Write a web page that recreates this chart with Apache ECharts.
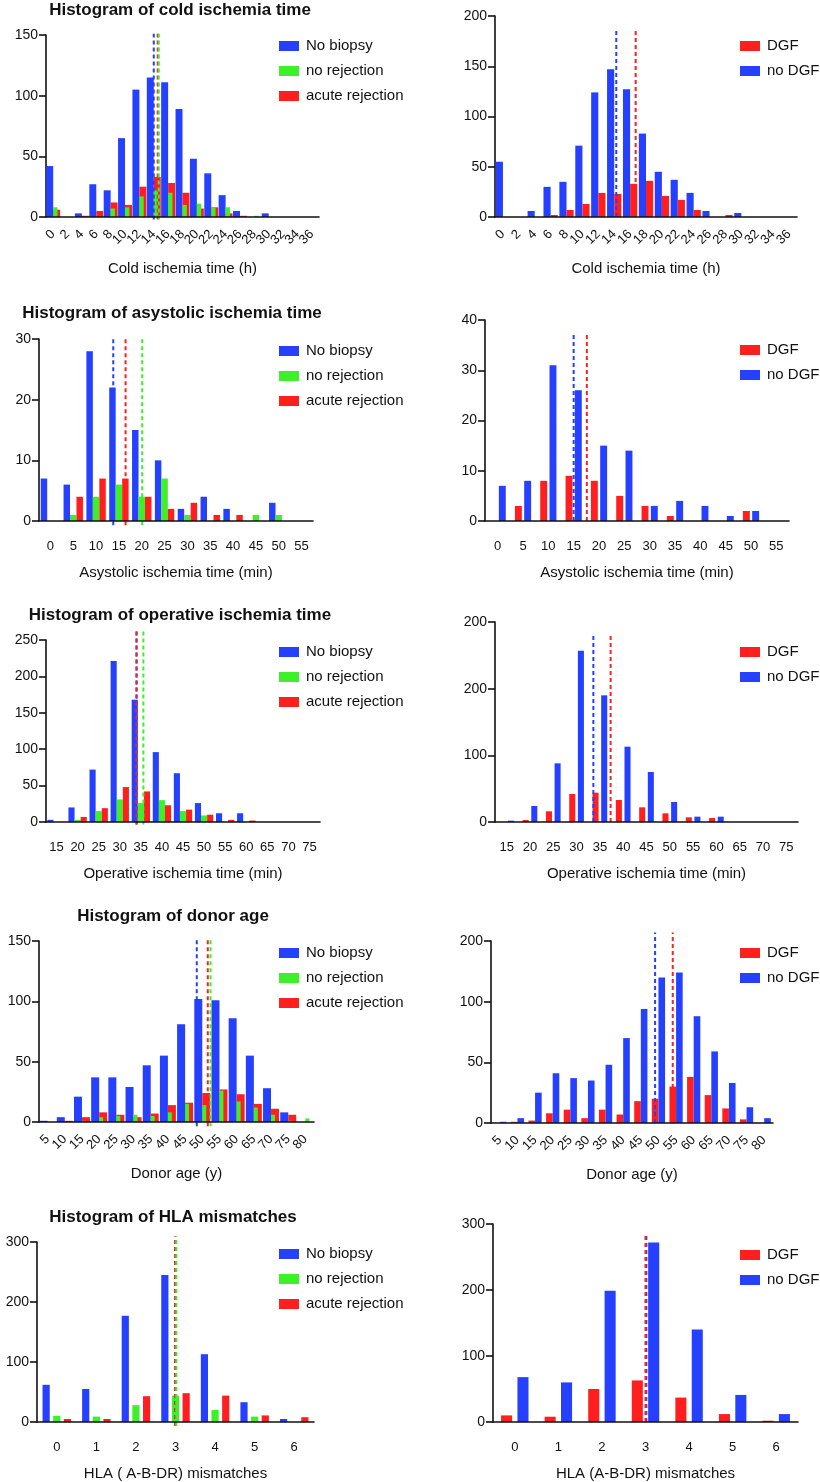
<!DOCTYPE html>
<html><head><meta charset="utf-8">
<script src="https://cdn.jsdelivr.net/npm/echarts@6/dist/echarts.min.js"></script>
<style>html,body{margin:0;padding:0;background:#fff}#c{width:820px;height:1482px}</style>
</head><body><div id="c"></div>
<script>
const FONT = '"Liberation Sans", Arial, Helvetica, sans-serif';
const BLUE = '#2541FF', GREEN = '#3DF02A', RED = '#FF1F1F';
const TXT = '#111';

// ---------- DATA ----------
const leftGroups = ['No biopsy', 'no rejection', 'acute rejection'];
const rightGroups = ['DGF', 'no DGF'];

// Cold ischemia time (h)
const coldBins = ['0','2','4','6','8','10','12','14','16','18','20','22','24','26','28','30','32','34','36'];
const coldNoBiopsy = [42,0,3,27,22,65,105,115,111,89,48,36,18,5,0,3,0,0,0];
const coldNoRejection = [8,0,0,0,7,8,17,22,20,10,11,8,8,0,1,0,0,0,0];
const coldAcuteRejection = [6,0,1,5,12,10,25,33,28,20,7,8,3,1,0,0,0,0,0];
const coldDGF = [0,0,0,2,7,13,24,23,33,36,21,17,7,0,2,0,0,0,0];
const coldNoDGF = [55,0,6,30,35,71,124,147,127,83,45,37,24,6,0,4,0,0,0];
const coldMeansLeft = [14.0, 14.7, 14.55];   // No biopsy, no rejection, acute rejection
const coldMeansRight = [16.7, 14.26];        // DGF, no DGF

// Asystolic ischemia time (min)
const asysBins = ['0','5','10','15','20','25','30','35','40','45','50','55'];
const asysNoBiopsy = [7,6,28,22,15,10,2,4,2,0,3,0];
const asysNoRejection = [0,1,4,6,4,7,1,0,0,1,1,0];
const asysAcuteRejection = [0,4,7,7,4,2,3,1,1,0,0,0];
const asysDGF = [0,3,8,9,8,5,3,1,0,0,2,0];
const asysNoDGF = [7,8,31,26,15,14,3,4,3,1,2,0];
const asysMeansLeft = [13.76, 20.1, 16.46];
const asysMeansRight = [17.6, 15.0];

// Operative ischemia time (min)
const opBins = ['15','20','25','30','35','40','45','50','55','60','65','70','75'];
const opNoBiopsy = [3,20,72,221,168,96,67,26,12,12,0,0,0];
const opNoRejection = [0,3,15,31,26,30,15,9,0,0,0,0,0];
const opAcuteRejection = [0,7,19,48,42,23,17,10,3,2,0,0,0];
const opDGF = [0,3,16,42,44,33,22,13,7,6,0,0,0];
const opNoDGF = [2,24,88,257,190,113,75,30,8,8,0,0,0];
const opMeansLeft = [34.0, 35.6, 33.95];
const opMeansRight = [37.3, 33.6];
const opRightYLabels = ['0','100','200','200'];

// Donor age (y)
const ageBins = ['5','10','15','20','25','30','35','40','45','50','55','60','65','70','75','80'];
const ageNoBiopsy = [1,4,21,37,37,29,47,55,81,102,101,86,55,28,8,0];
const ageNoRejection = [0,0,1,4,5,6,5,8,15,14,26,17,12,6,1,3];
const ageAcuteRejection = [0,1,4,8,6,4,7,14,16,24,27,23,15,11,6,0];
const ageDGF = [0,1,2,8,11,4,11,7,18,20,30,38,23,12,3,0];
const ageNoDGF = [1,4,25,41,37,35,48,70,94,120,124,88,59,33,13,4];
const ageMeansLeft = [48.4, 52.4, 51.6];
const ageMeansRight = [54.06, 49.05];
const ageRightYLabels = ['0','50','100','200'];

// HLA (A-B-DR) mismatches
const hlaBins = ['0','1','2','3','4','5','6'];
const hlaNoBiopsy = [62,55,177,245,113,33,5];
const hlaNoRejection = [10,9,28,44,20,9,0];
const hlaAcuteRejection = [5,5,43,48,44,11,8];
const hlaDGF = [10,8,50,63,37,12,2];
const hlaNoDGF = [68,60,199,272,140,41,12];
const hlaMeansLeft = [3.0, 3.02, 2.99];
const hlaMeansRight = [3.0, 3.02];

// ---------- PANELS (layout / style) ----------
function leftSeries(a,b,c){ return [{name:leftGroups[0],data:a,color:BLUE},{name:leftGroups[1],data:b,color:GREEN},{name:leftGroups[2],data:c,color:RED}]; }
// blue + red side by side, green drawn narrower over the left part of red
function leftSeriesOverlay(a,b,c){ return [{name:leftGroups[0],data:a,color:BLUE},{name:leftGroups[2],data:c,color:RED},{name:leftGroups[1],data:b,color:GREEN,overlay:true}]; }
function leftMeans(m){ return [{v:m[0],color:BLUE},{v:m[2],color:RED},{v:m[1],color:GREEN}]; }
function rightMeans(m){ return [{v:m[1],color:BLUE},{v:m[0],color:RED}]; }

const panels = [
  {title:'Histogram of cold ischemia time', titleX:180, titleY:2,
   grid:{left:46,top:35,width:273,height:182}, bins:coldBins, start:0, step:2, yMax:150, yInterval:50, rotate:45,
   xName:'Cold ischemia time (h)', legendX:279, legendY:38, legendData:leftGroups,
   series:leftSeriesOverlay(coldNoBiopsy,coldNoRejection,coldAcuteRejection), means:leftMeans(coldMeansLeft), span:[-2,151],
   barGap:'0%', barCategoryGap:'3%', overlayGap:'40%'},
  {grid:{left:495,top:16,width:302,height:201}, bins:coldBins, start:0, step:2, yMax:200, yInterval:50, rotate:45,
   xName:'Cold ischemia time (h)', legendX:740, legendY:38, legendData:rightGroups,
   series:[{name:'no DGF',data:coldNoDGF,color:BLUE},{name:'DGF',data:coldDGF,color:RED}], means:rightMeans(coldMeansRight), span:[0,185],
   barGap:'0%', barCategoryGap:'10%'},
  {title:'Histogram of asystolic ischemia time', titleX:172, titleY:305,
   grid:{left:39,top:339,width:274,height:182}, bins:asysBins, start:0, step:5, yMax:30, yInterval:10, rotate:0,
   xName:'Asystolic ischemia time (min)', legendX:279, legendY:343, legendData:leftGroups,
   series:leftSeries(asysNoBiopsy,asysNoRejection,asysAcuteRejection), means:leftMeans(asysMeansLeft), span:[-0.7,30.2],
   barGap:'0%', barCategoryGap:'15%'},
  {grid:{left:485,top:320,width:304,height:201}, bins:asysBins, start:0, step:5, yMax:40, yInterval:10, rotate:0,
   xName:'Asystolic ischemia time (min)', legendX:740, legendY:342, legendData:rightGroups,
   series:[{name:'DGF',data:asysDGF,color:RED},{name:'no DGF',data:asysNoDGF,color:BLUE}], means:rightMeans(asysMeansRight), span:[0,37.3],
   barGap:'34%', barCategoryGap:'36%'},
  {title:'Histogram of operative ischemia time', titleX:180, titleY:607,
   grid:{left:46,top:640,width:274,height:182}, bins:opBins, start:15, step:5, yMax:250, yInterval:50, rotate:0,
   xName:'Operative ischemia time (min)', legendX:279, legendY:644, legendData:leftGroups,
   series:leftSeries(opNoBiopsy,opNoRejection,opAcuteRejection), means:leftMeans(opMeansLeft), span:[-3.6,264],
   barGap:'0%', barCategoryGap:'13%'},
  {grid:{left:495,top:622,width:303,height:200}, bins:opBins, start:15, step:5, yMax:300, yInterval:100, yLabels:opRightYLabels, rotate:0,
   xName:'Operative ischemia time (min)', legendX:740, legendY:644, legendData:rightGroups,
   series:[{name:'DGF',data:opDGF,color:RED},{name:'no DGF',data:opNoDGF,color:BLUE}], means:rightMeans(opMeansRight), span:[0,283],
   barGap:'43%', barCategoryGap:'37%'},
  {title:'Histogram of donor age', titleX:173, titleY:908,
   grid:{left:39,top:941,width:275,height:181}, bins:ageBins, start:5, step:5, yMax:150, yInterval:50, rotate:45,
   xName:'Donor age (y)', legendX:279, legendY:945, legendData:leftGroups,
   series:leftSeriesOverlay(ageNoBiopsy,ageNoRejection,ageAcuteRejection), means:leftMeans(ageMeansLeft), span:[-3.6,153],
   barGap:'0%', barCategoryGap:'7%', overlayGap:'54%'},
  {grid:{left:491,top:941,width:282,height:182}, bins:ageBins, start:5, step:5, yMax:150, yInterval:50, yLabels:ageRightYLabels, rotate:45,
   xName:'Donor age (y)', legendX:740, legendY:945, legendData:rightGroups,
   series:[{name:'DGF',data:ageDGF,color:RED},{name:'no DGF',data:ageNoDGF,color:BLUE}], means:rightMeans(ageMeansRight), span:[0,157],
   barGap:'0%', barCategoryGap:'25%'},
  {title:'Histogram of HLA mismatches', titleX:173, titleY:1209,
   grid:{left:37,top:1242,width:277,height:182}, bins:hlaBins, start:0, step:1, yMax:300, yInterval:100, rotate:0,
   xName:'HLA ( A-B-DR) mismatches', legendX:279, legendY:1246, legendData:leftGroups,
   series:leftSeries(hlaNoBiopsy,hlaNoRejection,hlaAcuteRejection), means:leftMeans(hlaMeansLeft), span:[-6.6,309],
   barGap:'48%', barCategoryGap:'28%'},
  {grid:{left:493,top:1224,width:305,height:201}, bins:hlaBins, start:0, step:1, yMax:300, yInterval:100, rotate:0,
   xName:'HLA (A-B-DR) mismatches', legendX:740, legendY:1247, legendData:rightGroups,
   series:[{name:'DGF',data:hlaDGF,color:RED},{name:'no DGF',data:hlaNoDGF,color:BLUE}], means:rightMeans(hlaMeansRight), span:[0,284],
   barGap:'48%', barCategoryGap:'37%'}
];

// ---------- BUILD ----------
const option = {animation:false, backgroundColor:'#fff', textStyle:{fontFamily:FONT},
  title:[], legend:[], grid:[], xAxis:[], yAxis:[], series:[]};
const axisLineStyle = {color:TXT, width:1.6};

panels.forEach((p,i)=>{
  option.grid.push(Object.assign({}, p.grid));
  if (p.title) option.title.push({text:p.title, left:p.titleX, top:p.titleY, textAlign:'center', padding:0,
    textStyle:{fontFamily:FONT, fontSize:17, fontWeight:'bold', color:TXT}});
  option.legend.push({data:p.legendData, orient:'vertical', left:p.legendX, top:p.legendY, padding:0,
    itemGap:9, itemWidth:20, itemHeight:10, icon:'rect', selectedMode:false,
    textStyle:{fontFamily:FONT, fontSize:15, color:TXT, lineHeight:16, padding:[0,0,0,2]}});
  const n = p.bins.length;
  option.xAxis.push({type:'category', gridIndex:i, data:p.bins, position:'bottom', boundaryGap:true,
    name:p.xName, nameLocation:'middle', nameGap:44,
    nameTextStyle:{fontFamily:FONT, fontSize:15, color:TXT},
    axisLine:{onZero:false, lineStyle:axisLineStyle},
    axisTick:{alignWithLabel:true, interval:0, length:7, lineStyle:axisLineStyle},
    axisLabel:{interval:0, rotate:p.rotate, margin:p.rotate ? 15 : 19, fontFamily:FONT, fontSize:13, color:TXT},
    splitLine:{show:false}, z:6});
  const xi = option.xAxis.length - 1;
  option.xAxis.push({type:'value', gridIndex:i, show:false, position:'top', axisLine:{onZero:false},
    min:p.start - p.step/2, max:p.start + (n - 0.5)*p.step, splitLine:{show:false}});
  const vi = option.xAxis.length - 1;
  let oi = null;
  if (p.overlayGap) {
    option.xAxis.push({type:'category', gridIndex:i, data:p.bins, show:false, position:'top', boundaryGap:true, axisLine:{onZero:false}});
    oi = option.xAxis.length - 1;
    // empty spacer so the overlay bar starts at the tick
    option.series.push({type:'bar', xAxisIndex:oi, yAxisIndex:i, data:p.bins.map(()=>null),
      barGap:'0%', barCategoryGap:p.overlayGap, silent:true});
  }
  const yl = p.yLabels;
  option.yAxis.push({type:'value', gridIndex:i, min:0, max:p.yMax, interval:p.yInterval, position:'left',
    axisLine:{show:true, onZero:false, lineStyle:axisLineStyle},
    axisTick:{show:true, length:7, lineStyle:axisLineStyle},
    axisLabel:{margin:8, fontFamily:FONT, fontSize:14, color:TXT,
      formatter: yl ? (v)=>yl[Math.round(v/p.yInterval)] : '{value}'},
    splitLine:{show:false}});
  p.series.forEach(s=>{
    const ov = s.overlay;
    option.series.push({type:'bar', name:s.name, xAxisIndex: ov ? oi : xi, yAxisIndex:i, data:s.data,
      itemStyle:{color:s.color}, barGap: ov ? '0%' : p.barGap,
      barCategoryGap: ov ? p.overlayGap : p.barCategoryGap, silent:true, z: ov ? 3 : 2});
  });
  p.means.forEach(m=>{
    option.series.push({type:'line', name:'mean', xAxisIndex:vi, yAxisIndex:i,
      data:[[m.v, p.span[0]], [m.v, p.span[1]]], symbol:'none', clip:false, silent:true, z:5,
      lineStyle:{color:m.color, width:2, type:[4,3]}});
  });
});

const chart = echarts.init(document.getElementById('c'), null, {renderer:'canvas'});
chart.setOption(option);
</script>
</body></html>
